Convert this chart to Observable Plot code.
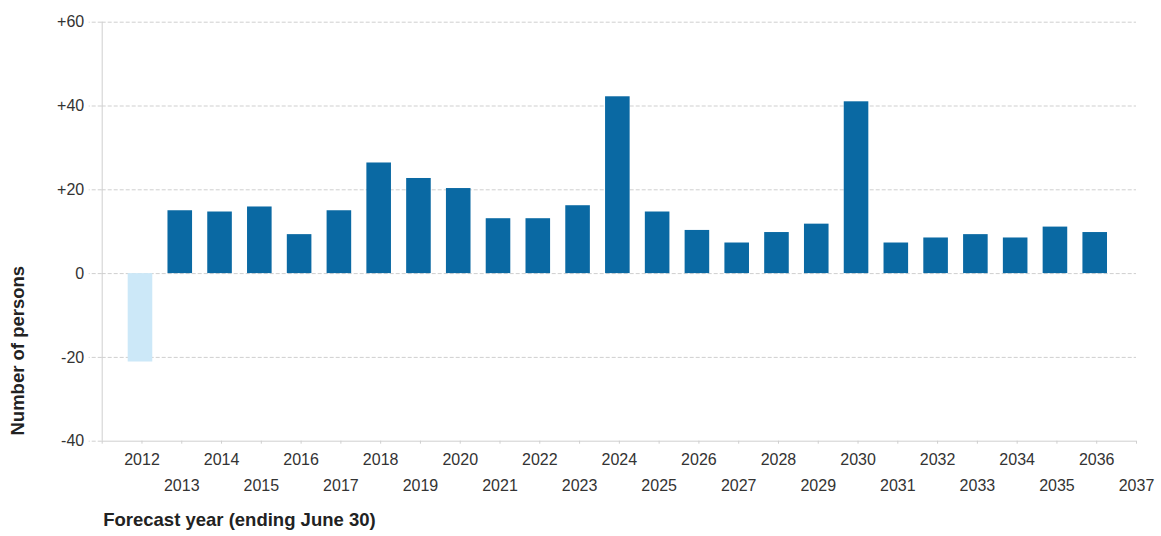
<!DOCTYPE html>
<html>
<head>
<meta charset="utf-8">
<script src="https://cdn.jsdelivr.net/npm/d3@7"></script>
<script src="https://cdn.jsdelivr.net/npm/@observablehq/plot@0.6"></script>
<style>
  html, body { margin: 0; padding: 0; background: #fff; }
  #chart svg { display: block; }
</style>
</head>
<body>
<div id="chart"></div>
<script>
// Data
const years = [2012, 2013, 2014, 2015, 2016, 2017, 2018, 2019, 2020, 2021, 2022, 2023, 2024,
               2025, 2026, 2027, 2028, 2029, 2030, 2031, 2032, 2033, 2034, 2035, 2036];
const values = [-21.1, 15.0, 14.7, 15.9, 9.3, 15.0, 26.4, 22.7, 20.3, 13.1, 13.1, 16.2, 42.2,
                14.7, 10.3, 7.3, 9.8, 11.8, 41.0, 7.3, 8.5, 9.3, 8.5, 11.1, 9.8];
const estimateKind = ["actual", "forecast", "forecast", "forecast", "forecast", "forecast", "forecast",
                      "forecast", "forecast", "forecast", "forecast", "forecast", "forecast", "forecast",
                      "forecast", "forecast", "forecast", "forecast", "forecast", "forecast", "forecast",
                      "forecast", "forecast", "forecast", "forecast"];
const xTickYears = [2011, 2012, 2013, 2014, 2015, 2016, 2017, 2018, 2019, 2020, 2021, 2022, 2023, 2024,
                    2025, 2026, 2027, 2028, 2029, 2030, 2031, 2032, 2033, 2034, 2035, 2036, 2037];
const xLabelsRow1 = [2012, 2014, 2016, 2018, 2020, 2022, 2024, 2026, 2028, 2030, 2032, 2034, 2036];
const xLabelsRow2 = [2013, 2015, 2017, 2019, 2021, 2023, 2025, 2027, 2029, 2031, 2033, 2035, 2037];
const yTicks = [-40, -20, 0, 20, 40, 60];
const yGrid = [-20, 0, 20, 40, 60];
const yTitle = "Number of persons";
const xTitle = "Forecast year (ending June 30)";

const data = years.map((year, i) => ({year, value: values[i], kind: estimateKind[i]}));

const font = "'Liberation Sans', Arial, Helvetica, sans-serif";
const gridColor = "#cfcfcf";

const chart = Plot.plot({
  width: 1161,
  height: 536,
  marginLeft: 101.7,
  marginRight: 25,
  marginTop: 21.7,
  marginBottom: 95.3,
  style: {fontFamily: font, background: "#fff", color: "#333"},
  x: {type: "linear", domain: [2011, 2037]},
  y: {domain: [-40, 60]},
  color: {domain: ["actual", "forecast"], range: ["#cce8f8", "#0a69a3"]},
  marks: [
    // dashed horizontal gridlines
    Plot.ruleY(yGrid, {stroke: gridColor, strokeDasharray: "4,2", strokeWidth: 1}),
    // solid bottom baseline and left axis line
    Plot.ruleY([-40], {stroke: gridColor, strokeWidth: 1}),
    Plot.ruleX([2011], {stroke: gridColor, strokeWidth: 1}),
    // bars
    Plot.rectY(data, {
      x1: d => d.year - 0.5,
      x2: d => d.year + 0.5,
      y: "value",
      fill: "kind",
      insetLeft: 7.6,
      insetRight: 7.6,
      dx: -1.5
    }),
    // y axis: dashed ticks + labels
    Plot.axisY({
      ticks: yTicks,
      tickSize: 13,
      tickPadding: 5,
      stroke: gridColor,
      strokeDasharray: "4,2",
      fontSize: 16,
      fill: "#333",
      tickFormat: d => d > 0 ? "+" + d : String(d),
      label: null
    }),
    // x axis tick marks
    Plot.axisX({
      ticks: xTickYears,
      tickSize: 3,
      stroke: gridColor,
      tickFormat: () => "",
      label: null
    }),
    // x labels, two staggered rows
    Plot.axisX({
      ticks: xLabelsRow1,
      tickSize: 0,
      tickPadding: 12,
      fontSize: 16,
      fill: "#333",
      tickFormat: d => String(d),
      label: null
    }),
    Plot.axisX({
      ticks: xLabelsRow2,
      tickSize: 0,
      tickPadding: 38.5,
      fontSize: 16,
      fill: "#333",
      tickFormat: d => String(d),
      label: null
    }),
    // axis titles
    Plot.text([yTitle], {
      frameAnchor: "left",
      dx: -84,
      dy: 119,
      rotate: -90,
      text: d => d,
      fontSize: 18.5,
      fontWeight: "bold",
      fill: "#222",
      textAnchor: "middle"
    }),
    Plot.text([xTitle], {
      frameAnchor: "bottom-left",
      dx: 1,
      dy: 84.5,
      text: d => d,
      fontSize: 18.5,
      fontWeight: "bold",
      fill: "#222",
      textAnchor: "start"
    })
  ]
});

document.getElementById("chart").appendChild(chart);
</script>
</body>
</html>
